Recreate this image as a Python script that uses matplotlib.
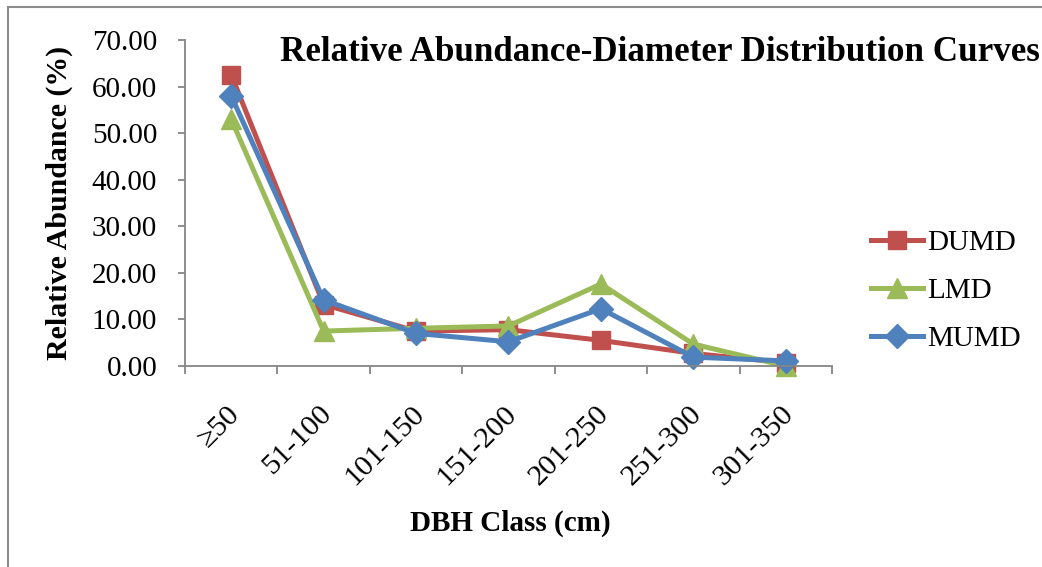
import numpy as np
import matplotlib
matplotlib.use("Agg")
import matplotlib.pyplot as plt
import matplotlib.patches as patches
import matplotlib.transforms as mtransforms

plt.rcParams['font.family'] = ['Liberation Serif', 'DejaVu Serif']

categories = ['≥50', '51-100', '101-150', '151-200', '201-250', '251-300', '301-350']
dumd = [62.5, 13.2, 7.5, 7.8, 5.5, 2.7, 0.7]
lmd = [53.0, 7.5, 8.1, 8.6, 17.6, 4.7, 0.0]
mumd = [58.0, 14.2, 7.0, 5.2, 12.3, 1.9, 1.1]

series_names = ['DUMD', 'LMD', 'MUMD']
colors = ['#C0504D', '#9BBB59', '#4F81BD']
markers = ['s', '^', 'D']
marker_sizes = [13, 14, 12]

W, H = 1042, 567
fig = plt.figure(figsize=(W / 100, H / 100), dpi=100)

# outer chart border (runs off the right and bottom edges)
border = patches.Rectangle((8 / W, -0.2), 1.2, 1 - 7 / H + 0.2,
                           transform=fig.transFigure, fill=False,
                           edgecolor='#8c8c8c', linewidth=1.5, clip_on=False)
fig.patches.append(border)

ax = fig.add_axes([185 / W, 1 - 366 / H, (832 - 185) / W, (366 - 40) / H])
x = np.arange(len(categories))
for vals, name, c, m, ms in zip([dumd, lmd, mumd], series_names, colors, markers, marker_sizes):
    ax.plot(x, vals, color=c, lw=3.6, marker=m, markersize=ms, label=name,
            solid_joinstyle='miter', clip_on=False)

ax.set_xlim(-0.5, len(categories) - 0.5)
ax.set_ylim(0, 70)
ax.set_yticks(np.arange(0, 71, 10))
ax.set_yticklabels(['%.2f' % v for v in np.arange(0, 71, 10)], fontsize=21)

ax.set_xticks(np.arange(-0.5, len(categories), 1.0))
ax.set_xticklabels([])
ax.set_xticks(x, minor=True)
ax.set_xticklabels(categories, minor=True, rotation=45, ha='right',
                   rotation_mode='anchor', fontsize=21.8)
ax.tick_params(axis='x', which='minor', length=0, pad=25)
ax.tick_params(axis='x', which='major', length=6, color='#868686', width=1.3)
ax.tick_params(axis='y', length=5, color='#868686', width=1.3, pad=15)

# nudge the slanted category labels a little to the left
shift = mtransforms.ScaledTranslation(-5 / 100, 0, fig.dpi_scale_trans)
for lbl in ax.get_xticklabels(minor=True):
    lbl.set_transform(lbl.get_transform() + shift)

for s in ['top', 'right']:
    ax.spines[s].set_visible(False)
for s in ['left', 'bottom']:
    ax.spines[s].set_color('#868686')
    ax.spines[s].set_linewidth(1.3)

fig.text(280 / W, 1 - 61 / H, 'Relative Abundance-Diameter Distribution Curves',
         fontsize=25.2, fontweight='bold', va='baseline', ha='left')
fig.text(59 / W, 1 - 203 / H, 'Relative Abundance (%)', fontsize=21.5,
         fontweight='bold', rotation=90, ha='center', va='center')
fig.text(510 / W, 1 - 523 / H, 'DBH Class (cm)', fontsize=21,
         fontweight='bold', ha='center', va='center')

fig.legend(loc='upper left', bbox_to_anchor=(871 / W, 1 - 230 / H),
           frameon=False, fontsize=21, borderpad=0, borderaxespad=0,
           handlelength=1.78, handletextpad=0.15, labelspacing=0.74,
           numpoints=1)

fig.savefig('out.png', dpi=100)
